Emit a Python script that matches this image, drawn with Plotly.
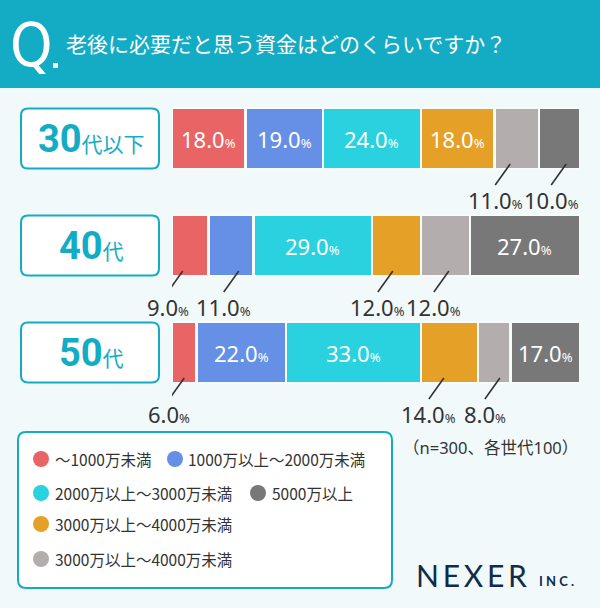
import plotly.graph_objects as go

# canvas
W, H = 600, 608

# DATA
groups = ['30代以下', '40代', '50代']
group_num = ['30', '40', '50']
group_suffix = ['代以下', '代', '代']

brackets = ['～1000万未満', '1000万以上～2000万未満', '2000万以上～3000万未満',
            '3000万以上～4000万未満', '3000万以上～4000万未満', '5000万以上']
v_lt1000 = [18.0, 9.0, 6.0]
v_1000_2000 = [19.0, 11.0, 22.0]
v_2000_3000 = [24.0, 29.0, 33.0]
v_3000_4000 = [18.0, 12.0, 14.0]
v_4000_5000 = [11.0, 12.0, 8.0]
v_5000up = [10.0, 27.0, 17.0]
series = [v_lt1000, v_1000_2000, v_2000_3000, v_3000_4000, v_4000_5000, v_5000up]

colors = ['#E96464', '#6690E6', '#2AD1DE', '#E5A027', '#B3AEAD', '#787878']
teal = '#14ACC4'
bg = '#F1F9FB'
dark = '#333333'
num_font = 'Noto Sans'

# legend item spots (px): circle centre x, row y, text left x
legend_spots = [(41, 459, 53), (175, 459, 186), (41, 493, 53),
                (41, 524, 53), (41, 559, 53), (258, 493, 270)]

# plot geometry (px)
bar_left, bar_right = 172, 580
row_top, row_h = 85, 107
bar_w = 61 / row_h
label_gap = 56   # min distance between outside label centres


def px(x, y):
    return x / W, 1 - y / H


def rbox(x0, y0, x1, y1, r):
    def p(x, y):
        return f"{x / W:.5f},{1 - y / H:.5f}"
    return (f"M {p(x0 + r, y0)} L {p(x1 - r, y0)} Q {p(x1, y0)} {p(x1, y0 + r)} "
            f"L {p(x1, y1 - r)} Q {p(x1, y1)} {p(x1 - r, y1)} L {p(x0 + r, y1)} "
            f"Q {p(x0, y1)} {p(x0, y1 - r)} L {p(x0, y0 + r)} Q {p(x0, y0)} {p(x0 + r, y0)} Z")


fig = go.Figure()
rows = list(range(len(groups)))

for name, vals, col in zip(brackets, series, colors):
    fig.add_trace(go.Bar(
        x=vals, y=rows, orientation='h', name=name,
        width=bar_w,
        marker=dict(color=col, line=dict(color='#F7FBFC', width=2.5)),
        hoverinfo='skip', showlegend=False,
    ))

shapes = []
annots = []

# header band
shapes.append(dict(type='rect', xref='paper', yref='paper', x0=0, x1=1,
                   y0=px(0, 88)[1], y1=1, fillcolor=teal, line_width=0, layer='below'))
x0, y0 = px(53, 68)
x1, y1 = px(58, 63)
shapes.append(dict(type='rect', xref='paper', yref='paper', x0=x0, x1=x1, y0=y0, y1=y1,
                   fillcolor='white', line_width=0))
annots.append(dict(text='Q', xref='paper', yref='paper', x=px(31, 0)[0], y=px(0, 45)[1],
                   showarrow=False, xanchor='center', yanchor='middle',
                   font=dict(family='DejaVu Sans Condensed, Roboto', size=60, color='white',
                             weight=500)))
annots.append(dict(text='老後に必要だと思う資金はどのくらいですか？', xref='paper', yref='paper',
                   x=px(64, 0)[0], y=px(0, 43)[1], showarrow=False,
                   xanchor='left', yanchor='middle',
                   font=dict(family='Noto Sans CJK JP', size=21, color='white')))

# row label boxes
for i in rows:
    cy = row_top + row_h * (i + 0.5)
    shapes.append(dict(type='path', xref='paper', yref='paper',
                       path=rbox(21, cy - 30, 159, cy + 30, 7),
                       fillcolor='white', line=dict(color=teal, width=2)))
    annots.append(dict(text=f"<b>{group_num[i]}</b><span style='font-size:21px'>{group_suffix[i]}</span>",
                       xref='paper', yref='y', x=px(91, 0)[0], y=i, showarrow=False,
                       xanchor='center', yanchor='middle',
                       font=dict(family='Roboto, Noto Sans CJK JP', size=38, color=teal)))

# value labels
scale = (bar_right - bar_left) / 100
for i in rows:
    left = 0
    outside = []   # [mid value, label, wanted centre px]
    for vals in series:
        v = vals[i]
        mid = left + v / 2
        left += v
        txt = f"{v:.1f}<span style='font-size:13px'>%</span>"
        if v >= 15:
            annots.append(dict(text=txt, x=mid, y=i, xref='x', yref='y', showarrow=False,
                               xanchor='center', yanchor='middle',
                               font=dict(family=num_font, size=22, color='white')))
        else:
            outside.append([mid, txt, bar_left + mid * scale - 15])
    # spread neighbouring outside labels apart
    for k in range(1, len(outside)):
        a, b = outside[k - 1], outside[k]
        if b[2] - a[2] < label_gap:
            m = (a[2] + b[2]) / 2
            a[2], b[2] = m - label_gap / 2, m + label_gap / 2
    if outside and outside[-1][2] > bar_right - 28:
        d = outside[-1][2] - (bar_right - 28)
        for o in outside:
            o[2] -= d
    for mid, txt, cx in outside:
        shift = cx - (bar_left + mid * scale)
        shapes.append(dict(type='line', xref='x', yref='y', xsizemode='pixel',
                           ysizemode='pixel', xanchor=mid, yanchor=i + bar_w / 2,
                           x0=shift + 15, x1=shift, y0=5, y1=-16,
                           line=dict(color=dark, width=1.6)))
        annots.append(dict(text=txt, x=mid, y=i + bar_w / 2, xref='x', yref='y',
                           xshift=shift, yshift=-31, showarrow=False,
                           xanchor='center', yanchor='middle',
                           font=dict(family=num_font, size=22, color=dark)))

# legend box
shapes.append(dict(type='path', xref='paper', yref='paper', path=rbox(18, 432, 392, 588, 8),
                   fillcolor='white', line=dict(color=teal, width=2)))
for name, col, (cx, cy, tx) in zip(brackets, colors, legend_spots):
    a0, b0 = px(cx - 8, cy + 8)
    a1, b1 = px(cx + 8, cy - 8)
    shapes.append(dict(type='circle', xref='paper', yref='paper', x0=a0, x1=a1, y0=b0, y1=b1,
                       fillcolor=col, line_width=0))
    annots.append(dict(text=name, xref='paper', yref='paper', x=px(tx, 0)[0], y=px(0, cy)[1],
                       showarrow=False, xanchor='left', yanchor='middle',
                       font=dict(family='Noto Sans CJK JP', size=15.5, color=dark)))

annots.append(dict(text='（n=300、各世代100）', xref='paper', yref='paper',
                   x=px(490, 0)[0], y=px(0, 447)[1], showarrow=False,
                   xanchor='center', yanchor='middle',
                   font=dict(family='Noto Sans, Noto Sans CJK JP', size=16.5, color=dark)))
annots.append(dict(text='N\u2009E\u2009X\u2009E\u2009R', xref='paper', yref='paper',
                   x=px(414, 0)[0], y=px(0, 575)[1],
                   showarrow=False, xanchor='left', yanchor='middle',
                   font=dict(family='Lato', size=30, color='#102B4C', weight=400)))
annots.append(dict(text='<b>I N C .</b>', xref='paper', yref='paper', x=px(537, 0)[0],
                   y=px(0, 581)[1], showarrow=False, xanchor='left', yanchor='middle',
                   font=dict(family='Lato', size=13, color='#102B4C')))

ytop = px(0, row_top)[1]
ybot = px(0, row_top + row_h * len(groups))[1]

fig.update_layout(
    width=W, height=H,
    margin=dict(l=0, r=0, t=0, b=0),
    paper_bgcolor=bg, plot_bgcolor='rgba(0,0,0,0)',
    barmode='stack',
    xaxis=dict(domain=[bar_left / W, bar_right / W], range=[0, 100], visible=False),
    yaxis=dict(domain=[ybot, ytop], range=[len(groups) - 0.5, -0.5], visible=False),
    shapes=shapes, annotations=annots,
)

fig.write_html("out.html", config={'displayModeBar': False},
               post_script="document.body.style.margin='0';")
